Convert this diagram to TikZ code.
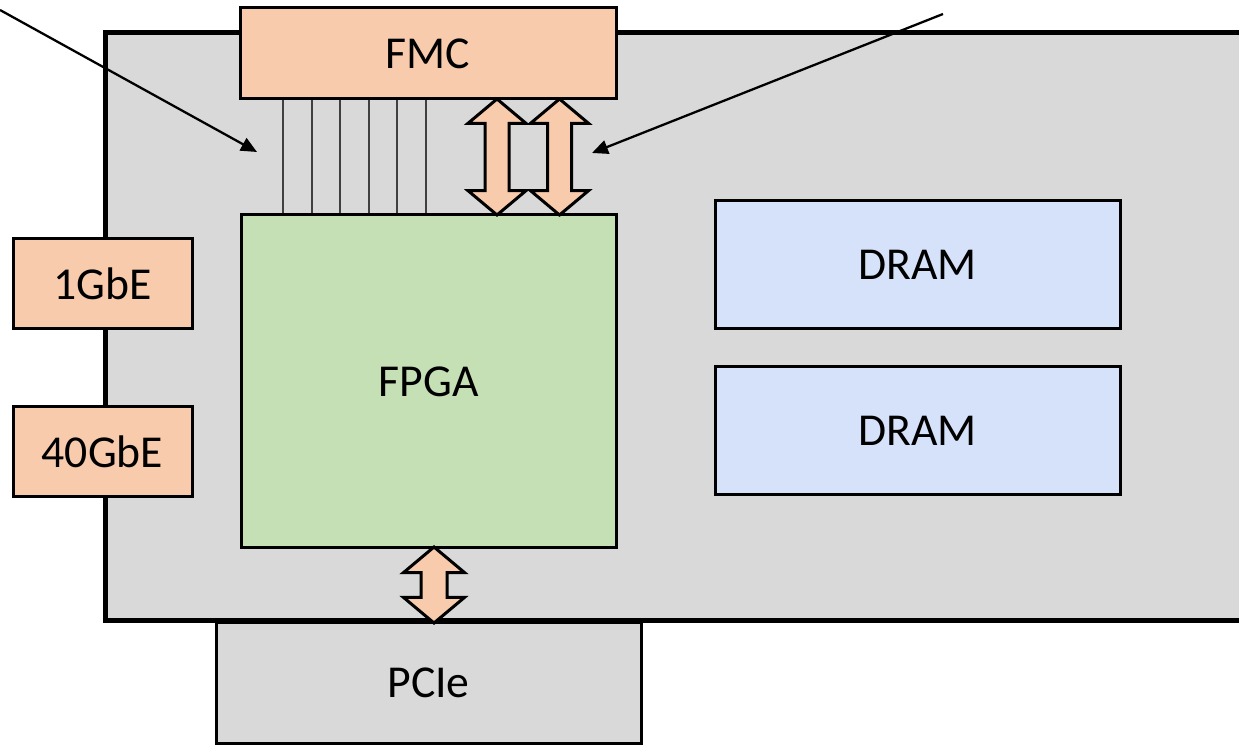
\documentclass[tikz,border=0pt]{standalone}
\usepackage{fontspec}
\setmainfont{Carlito}
\usetikzlibrary{positioning,arrows.meta,calc,shapes.arrows}
\definecolor{boardgray}{HTML}{D9D9D9}
\definecolor{ioorange}{HTML}{F8CBAD}
\definecolor{fpgagreen}{HTML}{C5E0B4}
\definecolor{dramblue}{HTML}{D6E2FA}
\tikzset{
  boardb/.style={draw=black, fill=boardgray, line width=0.1cm, inner sep=0pt},
  iob/.style={draw=black, fill=ioorange, line width=0.06cm, inner sep=0pt},
  fpgab/.style={draw=black, fill=fpgagreen, line width=0.06cm, inner sep=0pt},
  dramb/.style={draw=black, fill=dramblue, line width=0.06cm, inner sep=0pt},
  pcib/.style={draw=black, fill=boardgray, line width=0.06cm, inner sep=0pt},
  bus/.style={draw=black!75, line width=0.7pt},
  dblarrow/.style={double arrow, draw=black, fill=ioorange, line width=0.06cm,
    rotate=90, inner xsep=0pt, double arrow tip angle=100, double arrow head indent=0pt},
  note/.style={-{Triangle[length=3.2mm, width=2.8mm]}, line width=1.3pt, draw=black},
}
\begin{document}
\begin{tikzpicture}[font=\fontsize{26}{30}\selectfont]
    \useasboundingbox (0,0) rectangle (24.78,14.9);
    \clip (0,0) rectangle (24.78,14.9);
    % board
    \node[boardb, anchor=south west, minimum width=23cm, minimum height=11.76cm] (board) at (2.06,2.44) {};
    % network ports
    \node[iob, minimum width=3.58cm, minimum height=1.8cm] (gbe1) at (2.05,9.22) {1GbE};
    \node[iob, minimum width=3.58cm, minimum height=1.8cm] (gbe40) at (2.05,5.86) {40GbE};
    % fmc and fpga
    \node[iob, minimum width=7.52cm, minimum height=1.82cm] (fmc) at (8.56,13.83) {FMC};
    \node[fpgab, minimum width=7.5cm, minimum height=6.66cm] (fpga) at (8.57,7.27) {FPGA};
    % memory
    \node[dramb, minimum width=8.1cm, minimum height=2.56cm] (dram1) at (18.35,9.6) {DRAM};
    \node[dramb, minimum width=8.1cm, minimum height=2.56cm] (dram2) at (18.35,6.29) {DRAM};
    % host interface
    \node[pcib, minimum width=8.5cm, minimum height=2.4cm] (pcie) at (8.57,1.24) {PCIe};
    % fmc to fpga links
    \foreach \x in {5.66,6.24,6.8,7.38,7.94,8.52}
      \draw[bus] (\x,0 |- fmc.south) -- (\x,0 |- fpga.north);
    \node[dblarrow, minimum height=2.32cm, inner ysep=0.21cm, double arrow head extend=0.34cm] (fmcio1) at (9.94,11.76) {};
    \node[dblarrow, minimum height=2.32cm, inner ysep=0.21cm, double arrow head extend=0.34cm] (fmcio2) at (11.19,11.76) {};
    \node[dblarrow, minimum height=1.52cm, inner ysep=0.23cm, double arrow head extend=0.35cm] (pcieio) at (8.68,3.2) {};
    % annotations
    \coordinate (lstart) at (0,14.7);
    \coordinate (lend) at (5.14,11.86);
    \coordinate (rstart) at (18.86,14.62);
    \coordinate (rend) at (11.84,11.84);
    \draw[note] (lstart) -- (lend);
    \draw[note] (rstart) -- (rend);
  \end{tikzpicture}
\end{document}
